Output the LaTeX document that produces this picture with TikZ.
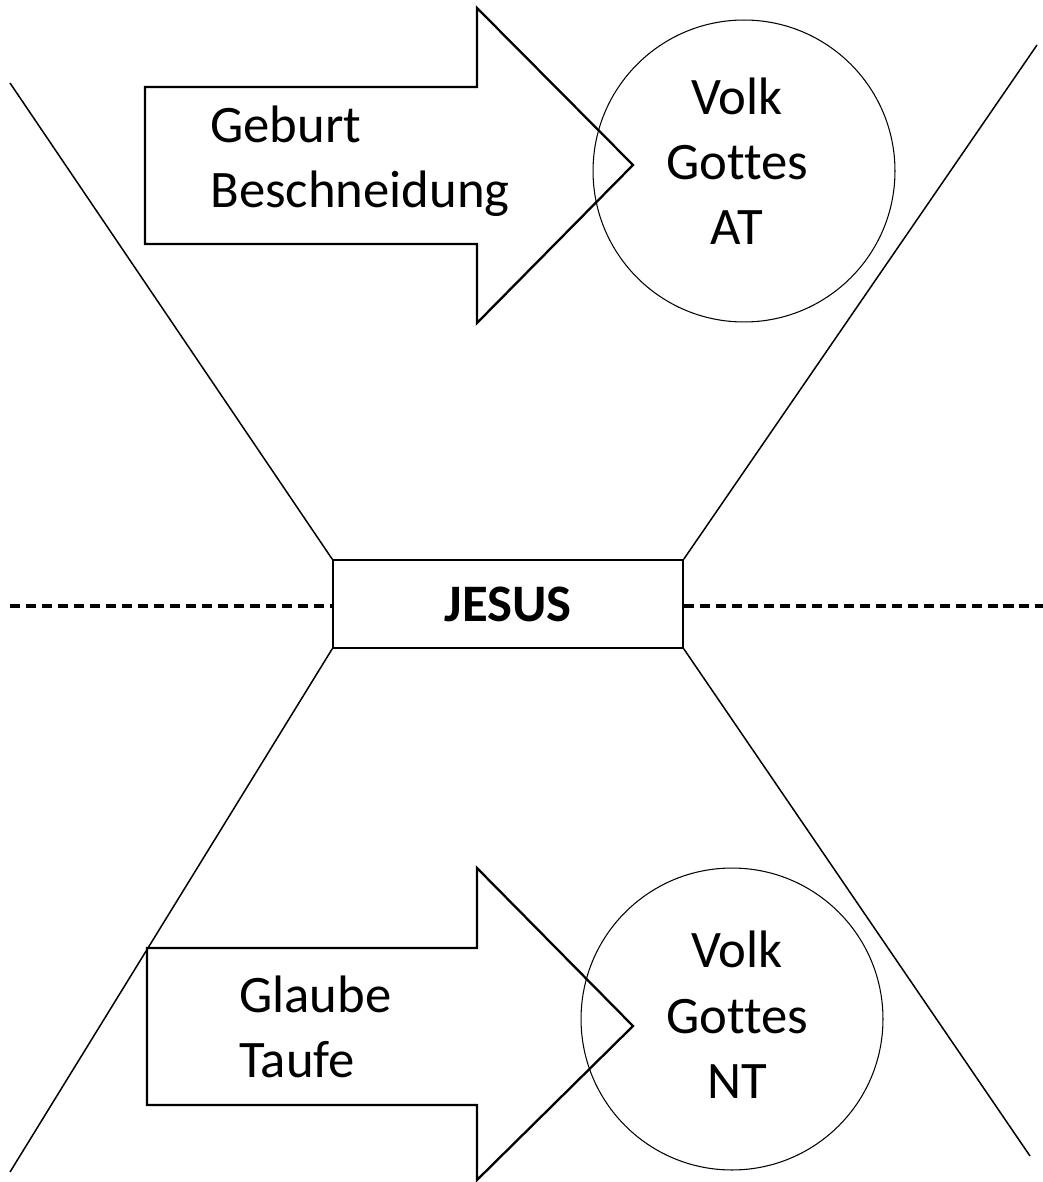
\documentclass[tikz,border=0pt]{standalone}
\usepackage{fontspec}
\setmainfont{Carlito}[Ligatures=NoCommon]
\newcommand{\bigtxt}{\fontsize{30}{37}\selectfont}
\tikzset{
  funnel/.style={line width=0.85pt},
  pfeil/.style={draw,line width=1.3pt,line join=miter},
  volk/.style={circle,draw,line width=0.6pt,minimum size=6.04cm,inner sep=0pt},
  label/.style={inner sep=0pt,font=\bigtxt},
  grenze/.style={line width=2pt,dash pattern=on 5.7pt off 3.4pt},
}
\begin{document}
\begin{tikzpicture}[x=0.02cm,y=-0.02cm]
  \useasboundingbox (0,0) rectangle (1043,1182);
  % centre box
  \node[draw,line width=0.85pt,minimum width=7cm,minimum height=1.76cm,inner sep=0pt,font=\bigtxt\bfseries]
    (jesus) at (508,604) {JESUS};
  \coordinate (tl) at (10,83);
  \coordinate (tr) at (1037,45);
  \coordinate (bl) at (10,1172);
  \coordinate (br) at (1030,1156);
  \coordinate (ll) at (10,606);
  \coordinate (rr) at (1043,606);
  \draw[funnel] (tl) -- (jesus.north west);
  \draw[funnel] (tr) -- (jesus.north east);
  \draw[funnel] (bl) -- (jesus.south west);
  \draw[funnel] (br) -- (jesus.south east);
  \draw[grenze] (ll) -- (jesus.west |- ll);
  \draw[grenze] (jesus.east |- rr) -- (rr);
  % old covenant
  \draw[pfeil] (145,87) -- (477,87) -- (477,8) -- (633,165) -- (477,323) -- (477,244) -- (145,244) -- cycle;
  \node[label,align=left,anchor=base west] (at-weg) at (210,208) {Geburt\\Beschneidung};
  \node[volk] (at-volk) at (744,171) {};
  \node[label,align=center,anchor=base] (at-text) at (737,245) {Volk\\Gottes\\AT};
  % new covenant
  \draw[pfeil] (147,948) -- (477,948) -- (477,868) -- (633,1026) -- (477,1180) -- (477,1105) -- (147,1105) -- cycle;
  \node[label,align=left,anchor=base west] (nt-weg) at (239,1077) {Glaube\\Taufe};
  \node[volk] (nt-volk) at (732,1019) {};
  \node[label,align=center,anchor=base] (nt-text) at (737,1098) {Volk\\Gottes\\NT};
\end{tikzpicture}
\end{document}
